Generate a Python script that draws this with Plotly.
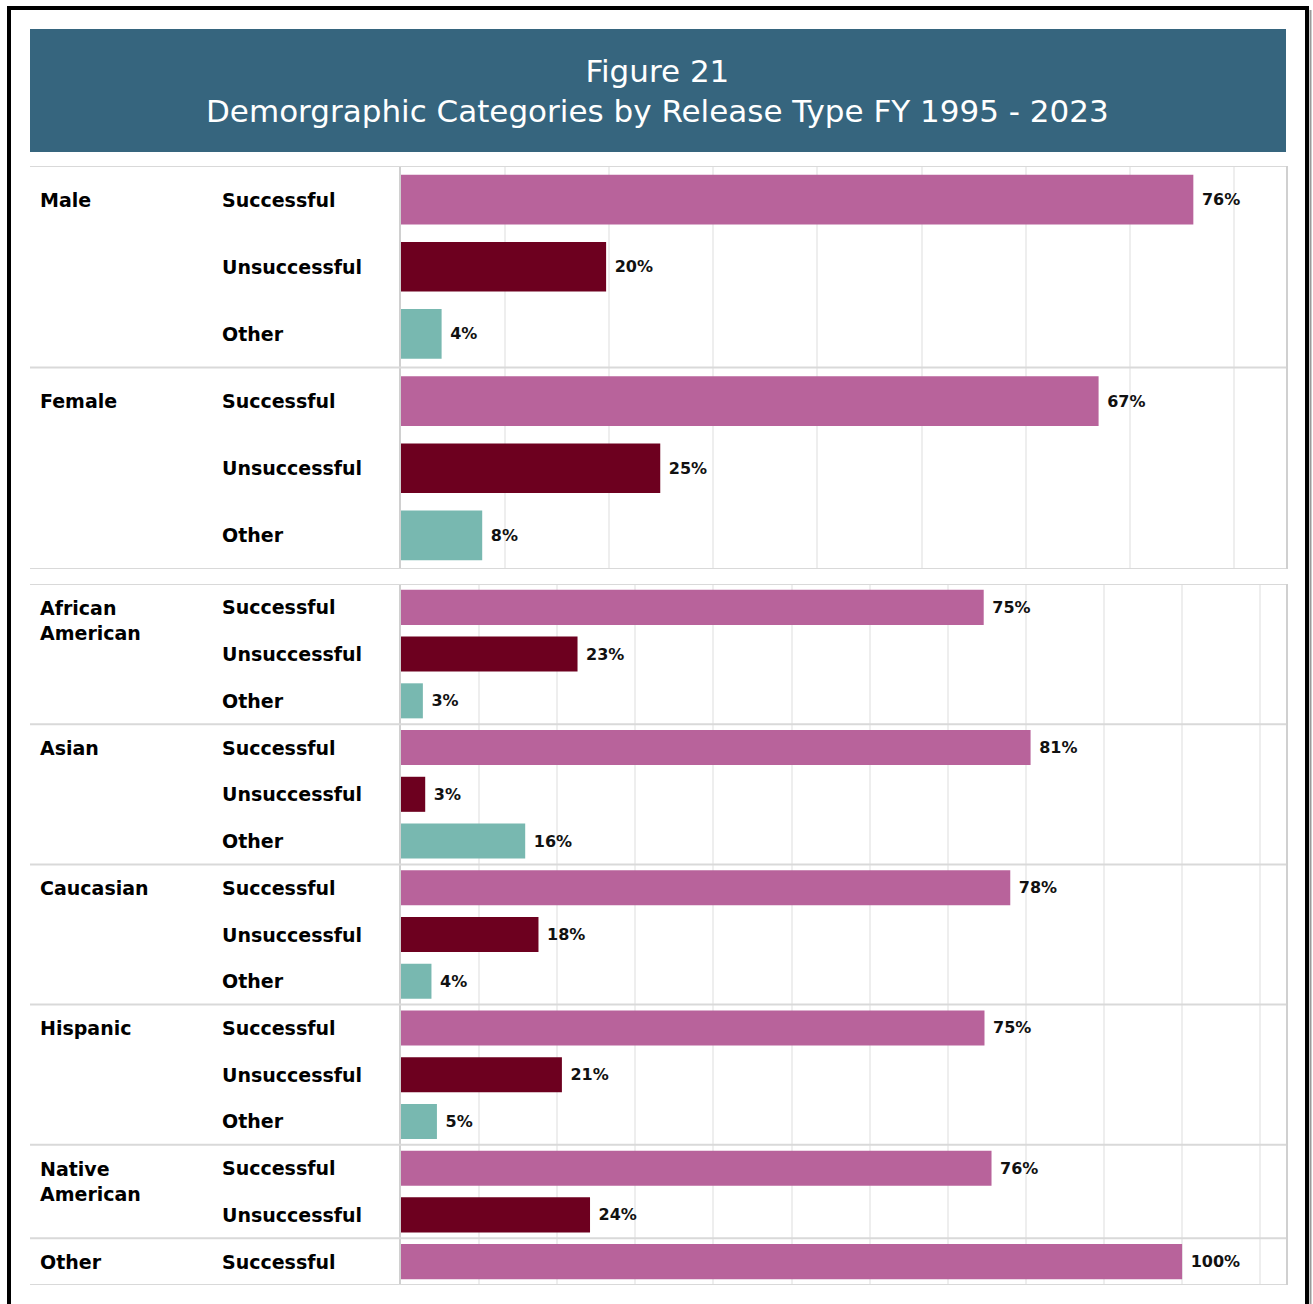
import plotly.graph_objects as go

# ---------------- data ----------------
release_types = ["Successful", "Unsuccessful", "Other"]

gender_groups = ["Male", "Female"]
male_vals = [76.1, 19.7, 3.9]
female_vals = [67.0, 24.9, 7.8]

race_groups = ["African American", "Asian", "Caucasian", "Hispanic", "Native American", "Other"]
race_group_labels = ["African<br>American", "Asian", "Caucasian", "Hispanic", "Native<br>American", "Other"]
african_american_vals = [74.6, 22.6, 2.8]
asian_vals = [80.6, 3.1, 15.9]
caucasian_vals = [78.0, 17.6, 3.9]
hispanic_vals = [74.7, 20.6, 4.6]
native_american_vals = [75.6, 24.2]
other_race_vals = [100.0]

title_line1 = "Figure 21"
title_line2 = "Demorgraphic Categories by Release Type FY 1995 - 2023"

# ---------------- styling ----------------
W, H = 1313, 1304
colors = {"Successful": "#B8639B", "Unsuccessful": "#6D001F", "Other": "#78B8B0"}
FONT = "DejaVu Sans"


def px_x(x):
    return x / W


def px_y(y):
    return 1 - y / H


fig = go.Figure()


def build_panel(groups, labels, values_list, xa, ya, bar_w):
    cats = []
    rows = []  # (category, group index, type, value)
    for gi, (g, vals) in enumerate(zip(groups, values_list)):
        for t, v in zip(release_types, vals):
            c = f"{g} | {t}"
            cats.append(c)
            rows.append((c, gi, t, v))
    for t in release_types:
        ys = [r[0] for r in rows if r[2] == t]
        xs = [r[3] for r in rows if r[2] == t]
        fig.add_trace(go.Bar(
            x=xs, y=ys, orientation="h", xaxis=xa, yaxis=ya,
            marker=dict(color=colors[t], line=dict(width=0)),
            width=bar_w,
            text=[f"\u00a0{v:.0f}%" for v in xs],
            textposition="outside",
            textfont=dict(family=FONT, size=16, color="#111111", weight="bold"),
            cliponaxis=False,
            showlegend=False,
            hoverinfo="skip",
        ))
    yref = "y" if ya == "y" else "y2"
    seen = set()
    boundaries = [-0.5]
    for i, (c, gi, t, v) in enumerate(rows):
        if gi not in seen:
            seen.add(gi)
            if i > 0:
                boundaries.append(i - 0.5)
            lab = labels[gi]
            nlines = lab.count("<br>") + 1
            fig.add_annotation(
                x=px_x(38), xref="paper", xanchor="left",
                y=c, yref=yref, yanchor="middle",
                yshift=-(nlines - 1) * 13.5,
                text=lab, showarrow=False, align="left",
                font=dict(family=FONT, size=19, color="#000000", weight="bold"),
            )
        fig.add_annotation(
            x=px_x(220), xref="paper", xanchor="left",
            y=c, yref=yref, yanchor="middle",
            text=t, showarrow=False, align="left",
            font=dict(family=FONT, size=19, color="#000000", weight="bold"),
        )
    boundaries.append(len(rows) - 0.5)
    for b in boundaries:
        fig.add_shape(type="line", xref="paper", yref=yref,
                      x0=px_x(30), x1=px_x(1286), y0=b, y1=b,
                      line=dict(color="#D9D9D9", width=2), layer="above")
    return cats


top_cats = build_panel(gender_groups, gender_groups, [male_vals, female_vals], "x", "y", 0.74)
bot_cats = build_panel(race_groups, race_group_labels,
                       [african_american_vals, asian_vals, caucasian_vals,
                        hispanic_vals, native_american_vals, other_race_vals],
                       "x2", "y2", 0.75)

xdom = [px_x(401), px_x(1286)]
common_x = dict(showticklabels=False, ticks="", showgrid=True, gridcolor="#EEEEEE",
                gridwidth=1.5, dtick=10, tick0=0, zeroline=False, showline=False,
                domain=xdom, fixedrange=True)
common_y = dict(showticklabels=False, ticks="", showgrid=False, zeroline=False,
                showline=True, mirror=True, linecolor="#D0D0D0", linewidth=2,
                categoryorder="array", fixedrange=True)

fig.update_layout(
    width=W, height=H, autosize=False,
    margin=dict(l=0, r=0, t=0, b=0),
    paper_bgcolor="white", plot_bgcolor="white",
    barmode="overlay",
    xaxis=dict(common_x, range=[0, 85], anchor="y"),
    yaxis=dict(common_y, categoryarray=top_cats, range=[len(top_cats) - 0.5, -0.5],
               domain=[px_y(569), px_y(166)], anchor="x"),
    xaxis2=dict(common_x, range=[0, 113.3], anchor="y2"),
    yaxis2=dict(common_y, categoryarray=bot_cats, range=[len(bot_cats) - 0.5, -0.5],
                domain=[px_y(1285), px_y(584)], anchor="x2"),
)

# title band
fig.add_shape(type="rect", xref="paper", yref="paper",
              x0=px_x(30), x1=px_x(1286), y0=px_y(152), y1=px_y(29),
              fillcolor="#36657E", line=dict(width=0), layer="below")
fig.add_annotation(
    x=px_x(658), y=px_y(90.5), xref="paper", yref="paper",
    xanchor="center", yanchor="middle", showarrow=False, align="center",
    text=f"{title_line1}<br>{title_line2}",
    font=dict(family=FONT, size=31, color="white"),
)

# outer frame
frame = dict(color="black", width=4)
fig.add_shape(type="line", xref="paper", yref="paper", x0=px_x(9), x1=px_x(9),
              y0=px_y(6), y1=px_y(1320), line=frame)
fig.add_shape(type="line", xref="paper", yref="paper", x0=px_x(7), x1=px_x(1309),
              y0=px_y(8), y1=px_y(8), line=frame)
fig.add_shape(type="line", xref="paper", yref="paper", x0=px_x(1307), x1=px_x(1307),
              y0=px_y(6), y1=px_y(1320), line=frame)
fig.add_shape(type="line", xref="paper", yref="paper", x0=px_x(1310.5), x1=px_x(1310.5),
              y0=px_y(10), y1=px_y(1320), line=dict(color="#9A9A9A", width=2))

fig.write_html("out.html", config={"displayModeBar": False},
               post_script="document.body.style.margin='0px';document.body.style.overflow='hidden';")
